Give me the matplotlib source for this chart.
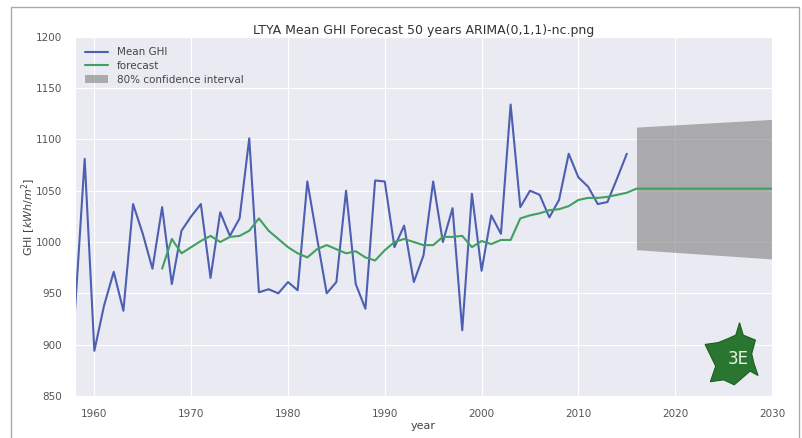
import numpy as np
import matplotlib
matplotlib.use('Agg')
import matplotlib.pyplot as plt
from matplotlib.patches import Polygon, Rectangle
import seaborn as sns

# observed yearly mean GHI, 1958-2015
years = np.arange(1958, 2016)
mean_ghi = [933, 1081, 894, 938, 971, 933, 1037, 1008, 974, 1034,
            959, 1011, 1025, 1037, 965, 1029, 1006, 1023, 1101, 951,
            954, 950, 961, 953, 1059, 1004, 950, 961, 1050, 959,
            935, 1060, 1059, 995, 1016, 961, 987, 1059, 1000, 1033,
            914, 1047, 972, 1026, 1008, 1134, 1034, 1050, 1046, 1024,
            1041, 1086, 1063, 1054, 1037, 1039, 1062, 1086]

# in-sample prediction 1967-2015 and the flat forecast out to 2030
fc_years = list(range(1967, 2017)) + [2030]
fc_values = [974, 1003, 989, 995, 1001, 1006, 1000, 1005, 1006, 1011,
             1023, 1011, 1003, 995, 989, 985, 993, 997, 993, 989,
             991, 985, 982, 992, 1000, 1003, 1000, 997, 997, 1005,
             1005, 1006, 995, 1001, 998, 1002, 1002, 1023, 1026, 1028,
             1031, 1032, 1035, 1041, 1043, 1043, 1044, 1046, 1048, 1052,
             1052]

# 80% confidence band of the forecast
ci_years = [2016, 2030]
ci_lower = [992.5, 983.5]
ci_upper = [1112, 1119.5]

sns.set_style('darkgrid')
plt.rcParams['font.family'] = ['DejaVu Sans']

fig = plt.figure(figsize=(8.03, 4.38), dpi=100)
ax = fig.add_axes([0.0934, 0.096, 0.868, 0.82])

ax.plot(years, mean_ghi, color='#4C5FB0', lw=1.5, label='Mean GHI')
ax.plot(fc_years, fc_values, color='#3FA060', lw=1.5, label='forecast')
ax.fill_between(ci_years, ci_lower, ci_upper, color='gray', alpha=0.6,
                lw=0, label='80% confidence interval')

ax.set_xlim(1958, 2030)
ax.set_ylim(850, 1200)
ax.set_xticks(range(1960, 2031, 10))
ax.set_yticks(range(850, 1201, 50))
ax.tick_params(labelsize=7.5, colors='#555555', pad=6)
ax.set_title('LTYA Mean GHI Forecast 50 years ARIMA(0,1,1)-nc.png',
             fontsize=9, color='#333333', pad=2)
ax.set_xlabel('year', fontsize=8, color='#444444', labelpad=1)
ax.set_ylabel(r'GHI $[kWh/m^2]$', fontsize=8, color='#444444', labelpad=-2)

leg = ax.legend(loc='upper left', fontsize=7.5, frameon=False,
                handlelength=2.2, labelspacing=0.35, borderaxespad=0.6)
for t in leg.get_texts():
    t.set_color('#444444')

# rough 3E maple leaf logo in the lower right
leaf = [(0.65, 1.0), (0.72, 0.8), (0.95, 0.72), (0.88, 0.5), (0.92, 0.35),
        (1.0, 0.15), (0.85, 0.22), (0.55, 0.0), (0.35, 0.08), (0.1, 0.05),
        (0.2, 0.3), (0.0, 0.65), (0.25, 0.68), (0.45, 0.75), (0.58, 0.8)]
lx, ly, lw_, lh = 0.904, 0.031, 0.076, 0.173
pts = [(lx + px * lw_, ly + py * lh) for px, py in leaf]
ax.add_patch(Polygon(pts, closed=True, transform=ax.transAxes,
                     facecolor='#2A7530', edgecolor='#1B5E20', lw=0.8, zorder=5))
ax.text(lx + 0.62 * lw_, ly + 0.42 * lh, '3E', transform=ax.transAxes,
        fontsize=12, color='#e8f5e9', ha='center', va='center', zorder=6)

# thin frame round the picture
fig.patches.append(Rectangle((11 / 803, -0.01), 788 / 803, 1 - 7 / 438 + 0.01,
                             transform=fig.transFigure, fill=False,
                             edgecolor='#aaaaaa', lw=1))

fig.savefig('out.png', dpi=100)
